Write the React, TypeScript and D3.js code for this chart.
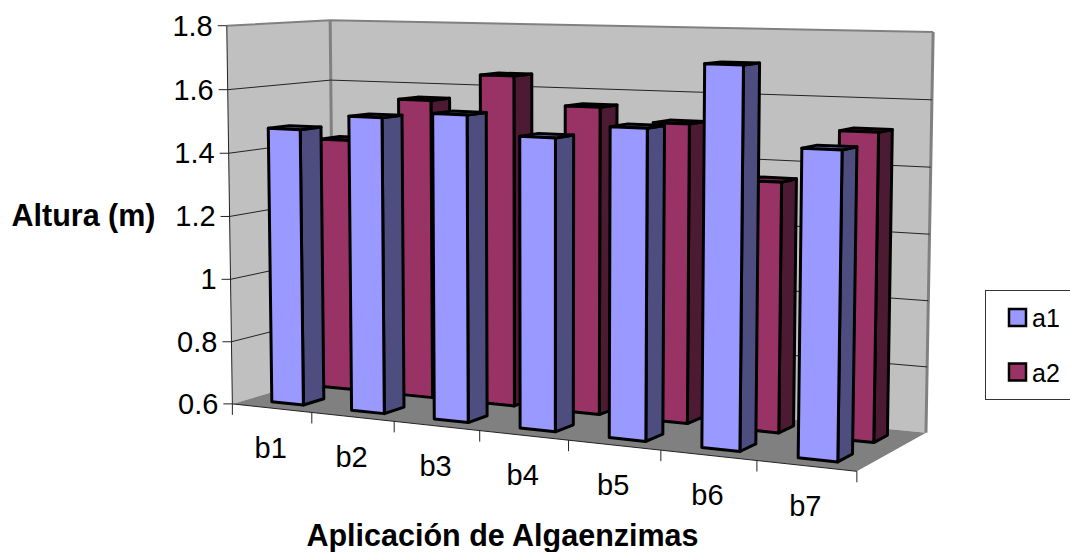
import * as d3 from "d3";

const WIDTH = 1070;
const HEIGHT = 552;

const categories = ["b1", "b2", "b3", "b4", "b5", "b6", "b7"];
const seriesNames = ["a1", "a2"];
const a1Values = [1.476, 1.524, 1.543, 1.485, 1.525, 1.716, 1.486];
const a2Values = [1.42, 1.56, 1.646, 1.558, 1.517, 1.355, 1.515];
const yTicks = [0.6, 0.8, 1, 1.2, 1.4, 1.6, 1.8];

const frontColors = ["#9999FF", "#993366"];
const sideColors = ["#4D4D80", "#4D1A33"];
const topColors = ["#7A7ACC", "#7A2952"];

// Where the corners of the 3D box land on the page: [u, w, h] -> [x, y]
// u runs along the categories, w is depth, h is value height (0..1)
const calibration: [number[], number[]][] = [
  [[0, 0, 0], [233, 403]],
  [[7, 0, 0], [857, 472]],
  [[0, 1, 0], [333, 375]],
  [[7, 1, 0], [926, 432]],
  [[0, 0, 1], [226, 26]],
  [[0, 1, 1], [331, 20]],
  [[7, 1, 1], [933, 32]],
];

// Least squares fit of the perspective matrix
function fitCamera() {
  const rows: number[][] = [];
  const rhs: number[] = [];
  calibration.forEach(([[u, w, h], [x, y]]) => {
    rows.push([u, w, h, 1, 0, 0, 0, 0, -x * u, -x * w, -x * h]);
    rhs.push(x);
    rows.push([0, 0, 0, 0, u, w, h, 1, -y * u, -y * w, -y * h]);
    rhs.push(y);
  });
  const n = 11;
  const m = d3.range(n).map((i) =>
    d3.range(n + 1).map((j) =>
      j < n ? d3.sum(rows, (r) => r[i] * r[j]) : d3.sum(rows, (r, k) => r[i] * rhs[k])
    )
  );
  for (let i = 0; i < n; i++) {
    let p = i;
    for (let k = i + 1; k < n; k++) if (Math.abs(m[k][i]) > Math.abs(m[p][i])) p = k;
    [m[i], m[p]] = [m[p], m[i]];
    for (let k = 0; k < n; k++) {
      if (k === i) continue;
      const f = m[k][i] / m[i][i];
      for (let j = i; j <= n; j++) m[k][j] -= f * m[i][j];
    }
  }
  return m.map((r, i) => r[n] / r[i]);
}

const cam = fitCamera();

function project(u: number, w: number, h: number): [number, number] {
  const d = cam[8] * u + cam[9] * w + cam[10] * h + 1;
  return [
    (cam[0] * u + cam[1] * w + cam[2] * h + cam[3]) / d,
    (cam[4] * u + cam[5] * w + cam[6] * h + cam[7]) / d,
  ];
}

// Scales
const uMax = categories.length;
const x = d3.scaleBand<string>().domain(categories).range([0, uMax]).paddingInner(0.6).paddingOuter(0.3);
const step = d3.scaleBand<string>().domain(categories).range([0, uMax]);
const row = d3.scaleBand<string>().domain(seriesNames).range([0, 1]);
const depth = d3.scaleLinear().domain([0, 1]).range([0.3, 0.7]);
const y = d3.scaleLinear().domain([0.6, 1.8]).range([0, 1]);

const poly = d3.line().curve(d3.curveLinearClosed);
const seg = d3.line();
const face = (...pts: number[][]) => poly(pts.map((p) => project(p[0], p[1], p[2])));
const edge = (...pts: number[][]) => seg(pts.map((p) => project(p[0], p[1], p[2])));

function Bar({ cat, s, value }: { cat: string; s: number; value: number }) {
  const u0 = x(cat)!;
  const u1 = u0 + x.bandwidth();
  const name = seriesNames[s];
  const w0 = row(name)! + depth(0) * row.bandwidth();
  const w1 = row(name)! + depth(1) * row.bandwidth();
  const h = y(value);
  return (
    <g stroke="#000" strokeWidth={3} strokeLinejoin="round">
      <path d={face([u1, w0, 0], [u1, w1, 0], [u1, w1, h], [u1, w0, h])!} fill={sideColors[s]} />
      <path d={face([u0, w0, h], [u1, w0, h], [u1, w1, h], [u0, w1, h])!} fill={topColors[s]} />
      <path d={face([u0, w0, 0], [u1, w0, 0], [u1, w0, h], [u0, w0, h])!} fill={frontColors[s]} />
    </g>
  );
}

export default function App() {
  return (
    <svg
      width={WIDTH}
      height={HEIGHT}
      style={{ position: "fixed", left: 0, top: 0, background: "#fff" }}
      fontFamily="'Liberation Sans', Arial, sans-serif"
    >
      {/* walls and floor */}
      <path d={face([0, 0, 0], [0, 1, 0], [0, 1, 1], [0, 0, 1])!} fill="#C0C0C0" />
      <path d={face([0, 1, 0], [uMax, 1, 0], [uMax, 1, 1], [0, 1, 1])!} fill="#C0C0C0" />
      <path d={face([0, 0, 0], [uMax, 0, 0], [uMax, 1, 0], [0, 1, 0])!} fill="#808080" />

      {/* gray wall outline */}
      <g fill="none" stroke="#808080">
        <path d={edge([0, 0, 1], [0, 1, 1], [uMax, 1, 1])!} strokeWidth={2} />
        <path d={edge([0, 1, 0], [0, 1, 1])!} strokeWidth={3} />
        <path d={edge([uMax, 1, 0], [uMax, 1, 1])!} strokeWidth={3} />
      </g>

      {/* gridlines */}
      <g fill="none" stroke="#222" strokeWidth={1}>
        {yTicks.slice(1, -1).map((t) => (
          <path key={t} d={edge([0, 0, y(t)], [0, 1, y(t)], [uMax, 1, y(t)])!} />
        ))}
      </g>

      {/* axes */}
      <g fill="none" stroke="#222" strokeWidth={1}>
        <path d={edge([0, 0, 0], [0, 0, 1])!} />
        <path d={edge([0, 0, 0], [uMax, 0, 0])!} />
        {yTicks.map((t) => {
          const [px, py] = project(0, 0, y(t));
          return <line key={t} x1={px - 9} x2={px} y1={py} y2={py} />;
        })}
        {d3.range(uMax + 1).map((i) => {
          const [px, py] = project(i, 0, 0);
          return <line key={i} x1={px} x2={px} y1={py} y2={py + 11} />;
        })}
      </g>

      {/* back row first so the front row covers it */}
      {[1, 0].map((s) =>
        categories.map((c, i) => (
          <Bar key={c + s} cat={c} s={s} value={(s === 0 ? a1Values : a2Values)[i]} />
        ))
      )}

      {/* tick labels */}
      <g fontSize={29} fill="#000">
        {yTicks.map((t) => {
          const [px, py] = project(0, 0, y(t));
          return (
            <text key={t} x={px - 14} y={py + 10} textAnchor="end">
              {String(t)}
            </text>
          );
        })}
        {categories.map((c) => {
          const [px, py] = project(step(c)! + step.bandwidth() / 2, 0, 0);
          return (
            <text key={c} x={px - 1} y={py + 50} textAnchor="middle">
              {c}
            </text>
          );
        })}
      </g>

      {/* axis titles */}
      <g fontSize={30.5} fontWeight="bold" fill="#000">
        <text x={83.5} y={226} textAnchor="middle">Altura (m)</text>
        <text x={502.5} y={546} textAnchor="middle">Aplicación de Algaenzimas</text>
      </g>

      {/* legend */}
      <rect x={985.5} y={290.5} width={100} height={109} fill="#fff" stroke="#333" strokeWidth={1} />
      {seriesNames.map((name, s) => (
        <g key={name}>
          <rect x={1009} y={309 + s * 54.5} width={17} height={17} fill={frontColors[s]} stroke="#000" strokeWidth={2.5} />
          <text x={1032} y={327 + s * 54.5} fontSize={25}>{name}</text>
        </g>
      ))}
    </svg>
  );
}
